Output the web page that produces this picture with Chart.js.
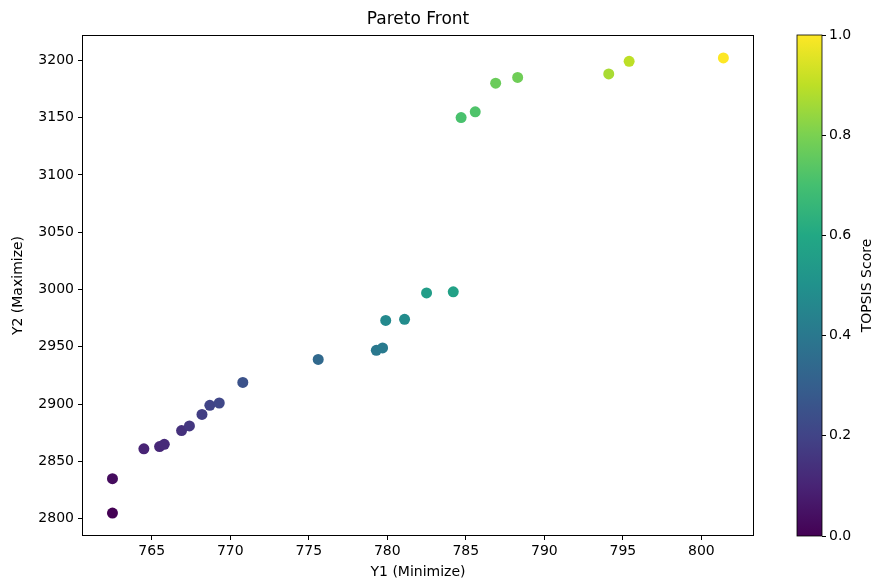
<!DOCTYPE html>
<html>
<head>
<meta charset="utf-8">
<script src="https://cdn.jsdelivr.net/npm/chart.js@4.4.1/dist/chart.umd.min.js"></script>
<style>
    html, body { margin: 0; padding: 0; background: #fff; }
    #wrap { position: relative; width: 874px; height: 583px; }
    canvas { position: absolute; left: 0; top: 0; }
    #barreCouleur { pointer-events: none; }
</style>
</head>
<body>
<div id="wrap">
    <canvas id="paretoChart" width="874" height="583"></canvas>
    <canvas id="barreCouleur" width="874" height="583"></canvas>
</div>
<script>
// Données
const y1Values = [762.5, 762.5, 764.5, 765.5, 765.8, 766.9, 767.4, 768.2, 768.7, 769.3,
                  770.8, 775.6, 779.3, 779.7, 779.9, 781.1, 782.5, 784.2, 784.7, 785.6,
                  786.9, 788.3, 794.1, 795.4, 801.4];
const y2Values = [2805, 2835, 2861, 2863, 2865, 2877, 2881, 2891, 2899, 2901,
                  2919, 2939, 2947, 2949, 2973, 2974, 2997, 2998, 3150, 3155,
                  3180, 3185, 3188, 3199, 3202];
const topsisScores = [0.00, 0.03, 0.10, 0.11, 0.12, 0.14, 0.16, 0.18, 0.20, 0.21,
                      0.25, 0.34, 0.40, 0.41, 0.47, 0.48, 0.55, 0.57, 0.71, 0.72,
                      0.77, 0.78, 0.87, 0.90, 1.00];
const xTicks = [765, 770, 775, 780, 785, 790, 795, 800];
const yTicks = [2800, 2850, 2900, 2950, 3000, 3050, 3100, 3150, 3200];
const cbTicks = [0, 0.2, 0.4, 0.6, 0.8, 1.0];

// Palette viridis (11 paliers)
const viridis = ['#440154', '#482475', '#414487', '#355f8d', '#2a788e', '#21918c',
                 '#22a884', '#44bf70', '#7ad151', '#bddf26', '#fde725'];

function hexRgb(h) {
    return [parseInt(h.substr(1, 2), 16), parseInt(h.substr(3, 2), 16), parseInt(h.substr(5, 2), 16)];
}

function couleurViridis(t) {
    t = Math.max(0, Math.min(1, t));
    const pos = t * (viridis.length - 1);
    const i = Math.min(Math.floor(pos), viridis.length - 2);
    const f = pos - i;
    const a = hexRgb(viridis[i]), b = hexRgb(viridis[i + 1]);
    const c = a.map((v, k) => Math.round(v + (b[k] - v) * f));
    return 'rgb(' + c.join(',') + ')';
}

const police = "'DejaVu Sans', sans-serif";
Chart.defaults.font.family = police;
Chart.defaults.color = '#000';

// Cadre autour de la zone de tracé
const cadre = {
    id: 'cadre',
    afterDraw(chart) {
        const a = chart.chartArea, ctx = chart.ctx;
        ctx.save();
        ctx.strokeStyle = '#000';
        ctx.lineWidth = 1;
        ctx.strokeRect(a.left + 0.5, a.top + 0.5, a.right - a.left - 1, a.bottom - a.top - 1);
        ctx.restore();
    }
};

const axeStyle = {
    grid: { display: true, drawOnChartArea: false, drawTicks: true, tickLength: 4, color: '#000' },
    border: { display: false }
};

// Graphique principal
const ctx = document.getElementById('paretoChart').getContext('2d');
new Chart(ctx, {
    type: 'scatter',
    data: {
        datasets: [{
            data: y1Values.map((x, i) => ({ x: x, y: y2Values[i] })),
            backgroundColor: topsisScores.map(couleurViridis),
            borderWidth: 0,
            pointRadius: 5.5,
            pointHoverRadius: 5.5
        }]
    },
    options: {
        responsive: false,
        animation: false,
        layout: { padding: { left: 0, right: 120, top: 0, bottom: 0 } },
        plugins: {
            legend: { display: false },
            tooltip: { enabled: false },
            title: {
                display: true,
                text: 'Pareto Front',
                fullSize: false,
                color: '#000',
                font: { size: 17, weight: 'normal' },
                padding: { top: 9, bottom: 5.6 }
            }
        },
        scales: {
            x: {
                type: 'linear',
                min: 760.56,
                max: 803.35,
                ...axeStyle,
                afterBuildTicks: s => { s.ticks = xTicks.map(v => ({ value: v })); },
                afterFit: s => { s.height = 47; },
                ticks: { padding: 3, font: { size: 14 }, color: '#000', maxRotation: 0, callback: v => String(v) },
                title: { display: true, text: 'Y1 (Minimize)', font: { size: 14 }, color: '#000', padding: { top: 0, bottom: 2 } }
            },
            y: {
                type: 'linear',
                min: 2785,
                max: 3222,
                ...axeStyle,
                afterBuildTicks: s => { s.ticks = yTicks.map(v => ({ value: v })); },
                afterFit: s => { s.width = 82; },
                ticks: { padding: 4, font: { size: 14 }, color: '#000', callback: v => String(v) },
                title: { display: true, text: 'Y2 (Maximize)', font: { size: 14 }, color: '#000', padding: { top: 10, bottom: 0 } }
            }
        }
    },
    plugins: [cadre]
});

// Barre de couleur TOPSIS
const degrade = {
    id: 'degrade',
    beforeDatasetsDraw(chart) {
        const a = chart.chartArea, c = chart.ctx;
        const g = c.createLinearGradient(0, a.bottom, 0, a.top);
        viridis.forEach((col, i) => g.addColorStop(i / (viridis.length - 1), col));
        c.save();
        c.fillStyle = g;
        c.fillRect(a.left, a.top, a.right - a.left, a.bottom - a.top);
        c.strokeStyle = '#000';
        c.lineWidth = 0.8;
        c.strokeRect(a.left, a.top, a.right - a.left, a.bottom - a.top);
        // libellé vertical, lu de bas en haut
        c.translate(867, (a.top + a.bottom) / 2);
        c.rotate(-Math.PI / 2);
        c.fillStyle = '#000';
        c.font = '14px ' + police;
        c.textAlign = 'center';
        c.textBaseline = 'middle';
        c.fillText('TOPSIS Score', 0, 0);
        c.restore();
    }
};

const cbCtx = document.getElementById('barreCouleur').getContext('2d');
new Chart(cbCtx, {
    type: 'scatter',
    data: { datasets: [{ data: [] }] },
    options: {
        responsive: false,
        animation: false,
        layout: { padding: { left: 797, right: 0, top: 35, bottom: 47 } },
        plugins: { legend: { display: false }, tooltip: { enabled: false } },
        scales: {
            x: { display: false, min: 0, max: 1 },
            y: {
                position: 'right',
                min: 0,
                max: 1,
                grid: { display: true, drawOnChartArea: false, tickLength: 4, color: '#000' },
                border: { display: false },
                afterBuildTicks: s => { s.ticks = cbTicks.map(v => ({ value: v })); },
                afterFit: s => { s.width = 52; },
                ticks: { padding: 3, font: { size: 14 }, color: '#000', callback: v => v.toFixed(1) }
            }
        }
    },
    plugins: [degrade]
});
</script>
</body>
</html>
